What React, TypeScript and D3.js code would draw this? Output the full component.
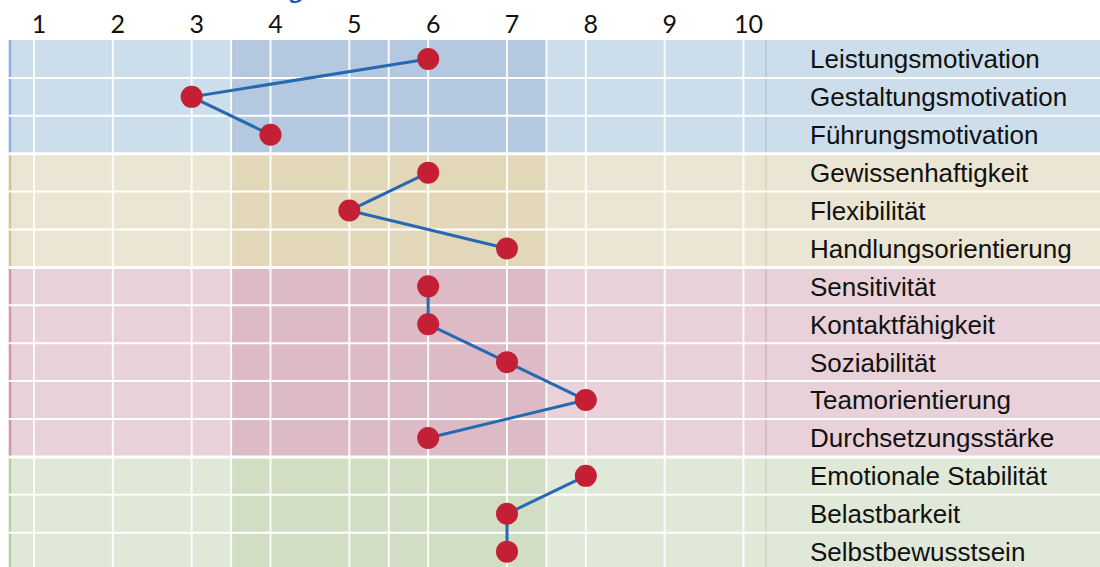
import React from "react";
import * as d3 from "d3";

// rows of the profile, top to bottom
const categories: string[] = [
  "Leistungsmotivation",
  "Gestaltungsmotivation",
  "Führungsmotivation",
  "Gewissenhaftigkeit",
  "Flexibilität",
  "Handlungsorientierung",
  "Sensitivität",
  "Kontaktfähigkeit",
  "Soziabilität",
  "Teamorientierung",
  "Durchsetzungsstärke",
  "Emotionale Stabilität",
  "Belastbarkeit",
  "Selbstbewusstsein",
];
const values: number[] = [6, 3, 4, 6, 5, 7, 6, 6, 7, 8, 6, 8, 7, 7];
// which colour block each row belongs to
const groupOf: number[] = [0, 0, 0, 1, 1, 1, 2, 2, 2, 2, 2, 3, 3, 3];
const ticks: number[] = [1, 2, 3, 4, 5, 6, 7, 8, 9, 10];
const extraLines: number[] = [3.5, 5.5, 7.5];
const bandRange: [number, number] = [3.5, 7.5];

const groupColors = [
  { light: "#CCDDEB", dark: "#B4C9E0", edge: "#8FB3D9" },
  { light: "#EBE5D3", dark: "#E2D8B9", edge: "#D2C493" },
  { light: "#E8D1D8", dark: "#DCBAC6", edge: "#CC98AA" },
  { light: "#E0E8D8", dark: "#D2DEC3", edge: "#B9CDA0" },
];

const W = 1100;
const H = 567;

export default function App() {
  const x = d3.scaleLinear().domain([1, 10]).range([34, 743.5]);
  const left = x(0.68);
  const right = 766;
  const y = d3
    .scaleBand<string>()
    .domain(categories)
    .range([40, 40 + 37.9 * categories.length])
    .padding(0);
  const bw = y.bandwidth();
  const cy = (c: string) => y(c)! + bw / 2;

  // the profile line is only drawn inside each block
  const rowsByGroup = d3.groups(
    categories.map((c, i) => ({ c, v: values[i], g: groupOf[i] })),
    (d) => d.g
  );
  const line = d3
    .line<{ c: string; v: number }>()
    .x((d) => x(d.v))
    .y((d) => cy(d.c));

  return (
    <svg
      width={W}
      height={H}
      style={{ position: "absolute", left: 0, top: 0, background: "#fff" }}
    >
      {/* cut off heading above the chart */}
      <text
        x={302}
        y={-2}
        textAnchor="end"
        fill="#1B5EA8"
        fontWeight="bold"
        fontSize={22}
        fontFamily="Open Sans, sans-serif"
      >
        Auswertung
      </text>

      {ticks.map((t) => (
        <text
          key={t}
          x={x(t) + 5}
          y={33}
          textAnchor="middle"
          fontSize={25}
          fontFamily="Lato, sans-serif"
          fill="#111"
        >
          {t}
        </text>
      ))}

      {/* row backgrounds */}
      {categories.map((c, i) => {
        const col = groupColors[groupOf[i]];
        return (
          <g key={c}>
            <rect x={left} y={y(c)} width={W - left} height={bw} fill={col.light} />
            <rect
              x={x(bandRange[0])}
              y={y(c)}
              width={x(bandRange[1]) - x(bandRange[0])}
              height={bw}
              fill={col.dark}
            />
            <rect x={left} y={y(c)} width={2.5} height={bw} fill={col.edge} />
            <line
              x1={right}
              x2={right}
              y1={y(c)}
              y2={y(c)! + bw}
              stroke={col.edge}
              strokeWidth={1}
              opacity={0.8}
            />
          </g>
        );
      })}

      {/* vertical grid */}
      {[...ticks, ...extraLines].map((t) => (
        <line
          key={"v" + t}
          x1={x(t)}
          x2={x(t)}
          y1={40}
          y2={H}
          stroke="#fff"
          strokeWidth={2}
          opacity={0.9}
        />
      ))}

      {/* horizontal grid */}
      {categories.map((c, i) =>
        i === 0 ? null : (
          <line
            key={"h" + c}
            x1={left}
            x2={W}
            y1={y(c)}
            y2={y(c)}
            stroke="#fff"
            strokeWidth={groupOf[i] !== groupOf[i - 1] ? 3 : 2}
          />
        )
      )}

      {categories.map((c) => (
        <text
          key={"l" + c}
          x={810}
          y={cy(c)}
          dy="0.36em"
          fontSize={26}
          fontFamily="Liberation Sans, Arial, sans-serif"
          fill="#111"
        >
          {c}
        </text>
      ))}

      {rowsByGroup.map(([g, rows]) => (
        <path key={"p" + g} d={line(rows) ?? ""} fill="none" stroke="#2569B2" strokeWidth={3} />
      ))}
      {values.map((v, i) => (
        <circle key={"d" + i} cx={x(v)} cy={cy(categories[i])} r={11} fill="#C41F35" />
      ))}
    </svg>
  );
}
